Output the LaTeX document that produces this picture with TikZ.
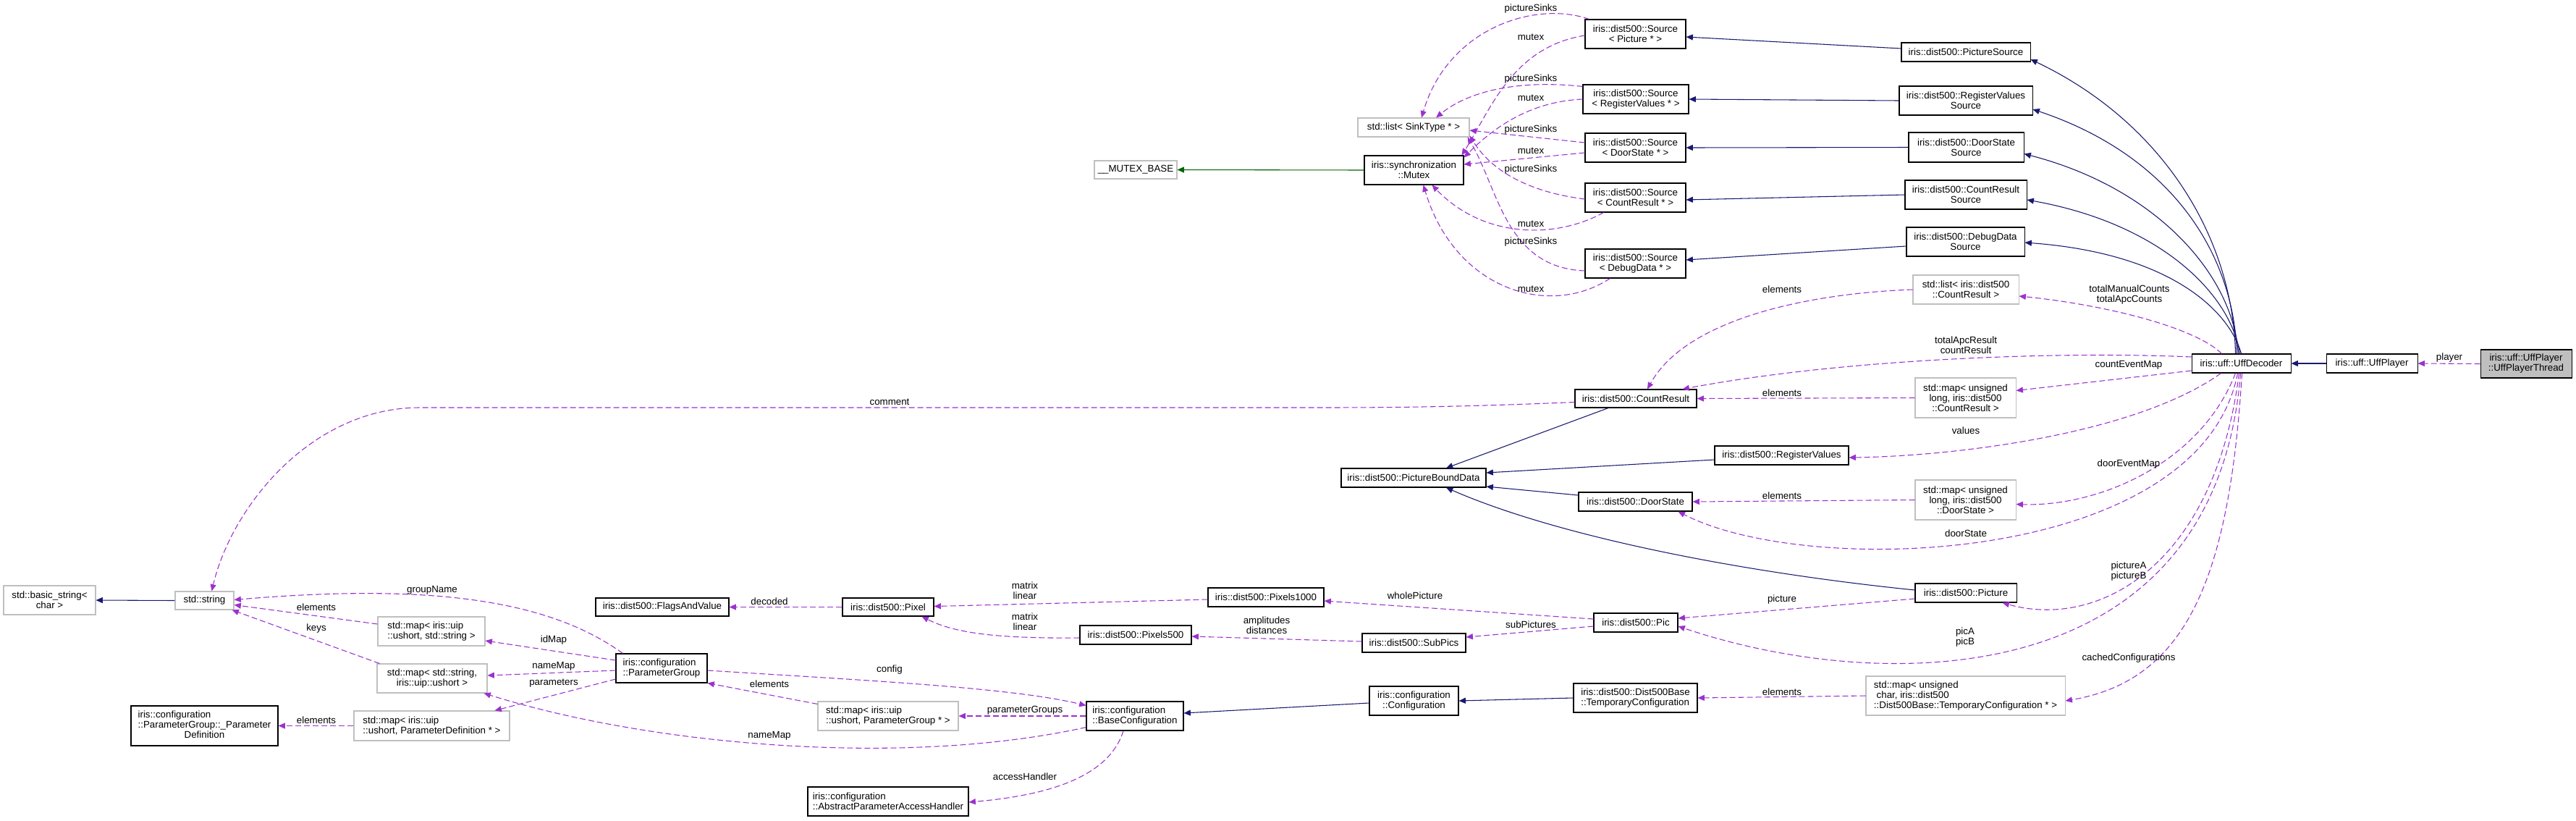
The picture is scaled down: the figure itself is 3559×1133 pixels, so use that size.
\documentclass[tikz,border=0pt]{standalone}
\usepackage{fontspec}
\setmainfont{Liberation Sans}
\usetikzlibrary{arrows.meta,calc}
\definecolor{inhc}{HTML}{191970}
\definecolor{usec}{HTML}{9A32CD}
\definecolor{grnc}{HTML}{006400}
\definecolor{grayb}{HTML}{BFBFBF}
\newcommand\nf{\fontsize{10}{10.5}\selectfont}
\newcommand\mkbox[7]{\node[#1, minimum width={(#5-#3)*0.75pt}, minimum height={(#6-#4)*0.75pt}] (#2) at ({(#3+#5)/2},{(#4+#6)/2}) {#7};}
\begin{document}
\begin{tikzpicture}[x=0.75pt,y=-0.75pt,
 box/.style={draw=black,line width=0.8pt,fill=white,inner sep=0pt,align=center,font=\nf},
 gbox/.style={box,draw=grayb},
 lft/.style={align=left},
 inh/.style={draw=inhc,line width=0.8pt,-{Triangle[length=7pt,width=6pt]}},
 grn/.style={inh,draw=grnc},
 use/.style={draw=usec,line width=0.8pt,dash pattern=on 6pt off 3pt,-{Triangle[length=7pt,width=6pt]}},
 lbl/.style={inner sep=0pt,align=center,font=\nf}]
\useasboundingbox[fill=white] (0,0) rectangle (3559,1133);

% ---------- nodes ----------
\mkbox{box,fill=grayb}{upt}{3427}{483}{3553}{522}{iris::uff::UffPlayer\\::UffPlayerThread}
\mkbox{box}{up}{3214}{489}{3340}{515}{iris::uff::UffPlayer}
\mkbox{box}{ud}{3028}{489}{3165}{515}{iris::uff::UffDecoder}
\mkbox{box}{ps}{2627}{59}{2805}{85}{iris::dist500::PictureSource}
\mkbox{box}{rvs}{2624}{119}{2808}{159}{iris::dist500::RegisterValues\\Source}
\mkbox{box}{dss}{2637}{183}{2796}{224}{iris::dist500::DoorState\\Source}
\mkbox{box}{crs}{2632}{249}{2800}{289}{iris::dist500::CountResult\\Source}
\mkbox{box}{dds}{2634}{314}{2797}{354}{iris::dist500::DebugData\\Source}
\mkbox{gbox}{lcr}{2643}{380}{2789}{420}{std::list< iris::dist500\\::CountResult >}
\mkbox{gbox}{mcr}{2646}{522}{2785}{577}{std::map< unsigned\\long, iris::dist500\\::CountResult >}
\mkbox{gbox}{mds}{2646}{663}{2785}{718}{std::map< unsigned\\long, iris::dist500\\::DoorState >}
\mkbox{box}{pict}{2646}{806}{2786}{832}{iris::dist500::Picture}
\mkbox{gbox,lft}{muc}{2578}{934}{2853}{988}{std::map< unsigned\\\ char, iris::dist500\\::Dist500Base::TemporaryConfiguration * >}
\mkbox{box}{sp}{2190}{27}{2329}{67}{iris::dist500::Source\\< Picture * >}
\mkbox{box}{srv}{2187}{117}{2333}{157}{iris::dist500::Source\\< RegisterValues * >}
\mkbox{box}{sds}{2190}{184}{2329}{224}{iris::dist500::Source\\< DoorState * >}
\mkbox{box}{scr}{2190}{253}{2329}{293}{iris::dist500::Source\\< CountResult * >}
\mkbox{box}{sdd}{2190}{344}{2329}{384}{iris::dist500::Source\\< DebugData * >}
\mkbox{gbox}{lst}{1876}{163}{2030}{189}{std::list< SinkType * >}
\mkbox{box}{mtx}{1885}{215}{2022}{255}{iris::synchronization\\::Mutex}
\mkbox{gbox}{mb}{1512}{222}{1626}{247}{\_\_MUTEX\_BASE}
\mkbox{box}{cr}{2176}{538}{2344}{563}{iris::dist500::CountResult}
\mkbox{box}{rv}{2369}{616}{2554}{642}{iris::dist500::RegisterValues}
\mkbox{box}{pbd}{1853}{647}{2053}{673}{iris::dist500::PictureBoundData}
\mkbox{box}{ds}{2181}{680}{2338}{706}{iris::dist500::DoorState}
\mkbox{box}{pic}{2202}{847}{2318}{873}{iris::dist500::Pic}
\mkbox{box}{subp}{1882}{875}{2025}{901}{iris::dist500::SubPics}
\mkbox{box}{conf}{1892}{948}{2015}{988}{iris::configuration\\::Configuration}
\mkbox{box,lft}{tc}{2174}{944}{2345}{984}{iris::dist500::Dist500Base\\::TemporaryConfiguration}
\mkbox{box}{p1k}{1669}{812}{1829}{838}{iris::dist500::Pixels1000}
\mkbox{box}{p500}{1492}{864}{1646}{890}{iris::dist500::Pixels500}
\mkbox{box}{pix}{1164}{826}{1290}{851}{iris::dist500::Pixel}
\mkbox{box}{fav}{823}{826}{1007}{851}{iris::dist500::FlagsAndValue}
\mkbox{box,lft}{pg}{851}{903}{977}{943}{iris::configuration\\::ParameterGroup}
\mkbox{gbox,lft}{mpg}{1130}{969}{1324}{1009}{std::map< iris::uip\\::ushort, ParameterGroup * >}
\mkbox{box,lft}{bc}{1501}{969}{1635}{1009}{iris::configuration\\::BaseConfiguration}
\mkbox{box,lft}{apah}{1116}{1087}{1338}{1127}{iris::configuration\\::AbstractParameterAccessHandler}
\mkbox{gbox}{str}{242}{817}{323}{842}{std::string}
\mkbox{gbox}{bstr}{5}{809}{132}{849}{std::basic\_string<\\char >}
\mkbox{gbox,lft}{mus}{522}{852}{670}{892}{std::map< iris::uip\\::ushort, std::string >}
\mkbox{gbox}{msu}{521}{917}{673}{957}{std::map< std::string,\\iris::uip::ushort >}
\mkbox{gbox,lft}{mpd}{489}{982}{704}{1023}{std::map< iris::uip\\::ushort, ParameterDefinition * >}
\mkbox{box}{pdef}{181}{975}{384}{1030}{\begin{tabular}{@{}l@{}}iris::configuration\\::ParameterGroup::\_Parameter\\\multicolumn{1}{@{}c@{}}{Definition}\end{tabular}}

% ---------- inheritance ----------
\draw[inh] (up.west) -- (ud.east);
\draw[inh] ($(ud.north)+(-8,0)$) .. controls (3085,330) and (2990,170) .. ($(ps.east)+(0,10)$);
\draw[inh] ($(ud.north)+(-6,0)$) .. controls (3086,350) and (3000,215) .. ($(rvs.east)+(0,12)$);
\draw[inh] ($(ud.north)+(-4,0)$) .. controls (3085,380) and (2980,260) .. ($(dss.east)+(0,9)$);
\draw[inh] ($(ud.north)+(-2,0)$) .. controls (3083,410) and (2990,310) .. ($(crs.east)+(0,7)$);
\draw[inh] ($(ud.north)+(0,0)$) .. controls (3080,430) and (3000,350) .. ($(dds.east)+(0,1)$);
\draw[inh] ($(ps.west)+(0,-5)$) -- ($(sp.east)+(0,4)$);
\draw[inh] (rvs.west) -- (srv.east);
\draw[inh] (dss.west) -- (sds.east);
\draw[inh] (crs.west) -- ($(scr.east)+(0,3)$);
\draw[inh] ($(dds.west)+(0,6)$) -- ($(sdd.east)+(0,-5)$);
\draw[grn] (mtx.west) -- (mb.east);
\draw[inh] ($(cr.south)+(-38,0)$) -- ($(pbd.north)+(45,0)$);
\draw[inh] ($(rv.west)+(0,6)$) -- ($(pbd.east)+(0,-7)$);
\draw[inh] ($(ds.west)+(0,-9)$) -- ($(pbd.east)+(0,12)$);
\draw[inh] ($(pict.west)+(0,-4)$) .. controls (2400,790) and (2150,740) .. ($(pbd.south)+(45,0)$);
\draw[inh] ($(conf.west)+(0,3)$) -- ($(bc.east)+(0,-4)$);
\draw[inh] (tc.west) -- (conf.east);
\draw[inh] (str.west) -- (bstr.east);

% ---------- usage ----------
\draw[use] ($(sp.north west)+(6,0)$) .. controls (2120,0) and (2000,40) .. ($(lst.north)+(11,0)$);
\draw[use] ($(sp.west)+(0,2)$) .. controls (2090,65) and (2060,150) .. ($(mtx.north east)+(-3,0)$);
\draw[use] ($(srv.north west)+(0,3)$) .. controls (2100,110) and (2030,125) .. ($(lst.north)+(31,0)$);
\draw[use] (srv.west) .. controls (2120,140) and (2070,170) .. ($(mtx.north east)+(0,3)$);
\draw[use] ($(sds.west)+(0,-7)$) -- ($(lst.east)+(0,4)$);
\draw[use] ($(sds.west)+(0,7)$) -- ($(mtx.east)+(0,-8)$);
\draw[use] ($(scr.west)+(0,2)$) .. controls (2110,265) and (2060,235) .. ($(lst.south east)+(0,-2)$);
\draw[use] ($(scr.south west)+(26,0)$) .. controls (2150,330) and (2050,330) .. ($(mtx.south)+(25,0)$);
\draw[use] ($(sdd.west)+(0,10)$) .. controls (2080,370) and (2070,260) .. ($(lst.south east)+(-3,0)$);
\draw[use] ($(sdd.south west)+(35,0)$) .. controls (2140,440) and (2010,400) .. ($(mtx.south)+(13,0)$);

\draw[use] (lcr.west) .. controls (2500,405) and (2330,440) .. ($(cr.north)+(16,0)$);
\draw[use] ($(ud.north west)+(42,0)$) .. controls (3030,450) and (2900,420) .. ($(lcr.east)+(0,9)$);
\draw[use] ($(ud.west)+(0,-9)$) .. controls (2850,485) and (2550,495) .. ($(cr.north east)+(-20,0)$);
\draw[use] ($(ud.west)+(0,10)$) -- ($(mcr.east)+(0,-10)$);
\draw[use] (mcr.west) -- (cr.east);
\draw[use] ($(ud.south)+(-28,0)$) .. controls (2950,600) and (2700,630) .. ($(rv.east)+(0,3)$);
\draw[use] ($(ud.south)+(-8,0)$) .. controls (3040,640) and (2900,700) .. ($(mds.east)+(0,6)$);
\draw[use] (mds.west) -- (ds.east);
\draw[use] ($(ud.south)+(-5,0)$) .. controls (3040,780) and (2500,800) .. ($(ds.south east)+(-20,0)$);
\draw[use] ($(ud.south)+(-3,0)$) .. controls (3060,780) and (2900,870) .. ($(pict.south east)+(-20,0)$);
\draw[use] ($(ud.south)+(-1,0)$) .. controls (3060,960) and (2600,960) .. ($(pic.east)+(0,5)$);
\draw[use] ($(ud.south)+(1,0)$) .. controls (3080,800) and (3020,940) .. ($(muc.east)+(0,7)$);
\draw[use] (muc.west) -- (tc.east);
\draw[use] (upt.west) -- (up.east);

\draw[use] ($(pict.west)+(0,8)$) -- ($(pic.east)+(0,-6)$);
\draw[use] ($(pic.west)+(0,-5)$) -- ($(p1k.east)+(0,5)$);
\draw[use] ($(pic.west)+(0,5)$) -- ($(subp.east)+(0,-8)$);
\draw[use] ($(subp.west)+(0,-2)$) -- ($(p500.east)+(0,2)$);
\draw[use] ($(p1k.west)+(0,3)$) -- ($(pix.east)+(0,-1)$);
\draw[use] ($(p500.west)+(0,4)$) .. controls (1380,882) and (1320,875) .. ($(pix.south east)+(-17,0)$);
\draw[use] (pix.west) -- (fav.east);

\draw[use] ($(pg.east)+(0,3)$) .. controls (1200,940) and (1400,950) .. ($(bc.north west)+(0,6)$);
\draw[use] ($(mpg.north west)+(0,4)$) -- (pg.south east);
\draw[use] (bc.west) -- (mpg.east);
\draw[use] ($(bc.south west)+(0,-5)$) .. controls (1250,1060) and (900,1030) .. ($(msu.south east)+(-5,0)$);
\draw[use] ($(bc.south)+(-16,0)$) .. controls (1530,1080) and (1430,1100) .. ($(apah.east)+(0,1)$);
\draw[use] ($(pg.north west)+(10,0)$) .. controls (760,830) and (600,805) .. ($(str.east)+(0,-1)$);
\draw[use] ($(mus.west)+(0,-10)$) -- ($(str.east)+(0,6)$);
\draw[use] ($(msu.north west)+(4,0)$) -- ($(str.south east)+(-3,0)$);
\draw[use] ($(pg.west)+(0,-11)$) -- ($(mus.east)+(0,13)$);
\draw[use] ($(pg.west)+(0,3)$) -- ($(msu.east)+(0,-4)$);
\draw[use] ($(pg.west)+(0,15)$) -- ($(mpd.north east)+(-21,0)$);
\draw[use] (mpd.west) -- (pdef.east);
\draw[use] ($(cr.west)+(0,5)$) .. controls (2000,563) and (1900,563) .. (1800,563) -- (580,563) .. controls (430,563) and (320,700) .. ($(str.north)+(10,0)$);

% ---------- labels ----------
\node[lbl] (l01) at (2115,12) {pictureSinks};
\node[lbl] (l02) at (2115,51) {mutex};
\node[lbl] (l03) at (2115,109) {pictureSinks};
\node[lbl] (l04) at (2115,135) {mutex};
\node[lbl] (l05) at (2115,179) {pictureSinks};
\node[lbl] (l06) at (2115,208) {mutex};
\node[lbl] (l07) at (2115,234) {pictureSinks};
\node[lbl] (l08) at (2115,309) {mutex};
\node[lbl] (l09) at (2115,334) {pictureSinks};
\node[lbl] (l10) at (2115,399) {mutex};
\node[lbl] (l11) at (2462,400) {elements};
\node[lbl] (l12) at (2942,407) {totalManualCounts\\totalApcCounts};
\node[lbl] (l13) at (2716,477) {totalApcResult\\countResult};
\node[lbl] (l14) at (2941,504) {countEventMap};
\node[lbl] (l15) at (2462,543) {elements};
\node[lbl] (l16) at (2716,595) {values};
\node[lbl] (l17) at (2941,641) {doorEventMap};
\node[lbl] (l18) at (2462,685) {elements};
\node[lbl] (l19) at (2716,737) {doorState};
\node[lbl] (l20) at (2941,789) {pictureA\\pictureB};
\node[lbl] (l21) at (2715,880) {picA\\picB};
\node[lbl] (l22) at (2941,909) {cachedConfigurations};
\node[lbl] (l23) at (2462,956) {elements};
\node[lbl] (l24) at (3384,494) {player};
\node[lbl] (l25) at (2462,828) {picture};
\node[lbl] (l26) at (1955,823) {wholePicture};
\node[lbl] (l27) at (2115,863) {subPictures};
\node[lbl] (l28) at (1750,864) {amplitudes\\distances};
\node[lbl] (l29) at (1416,816) {matrix\\linear};
\node[lbl] (l30) at (1416,859) {matrix\\linear};
\node[lbl] (l31) at (1063,831) {decoded};
\node[lbl] (l32) at (1229,925) {config};
\node[lbl] (l33) at (1063,945) {elements};
\node[lbl] (l34) at (1416,981) {parameterGroups};
\node[lbl] (l35) at (1063,1016) {nameMap};
\node[lbl] (l36) at (1416,1073) {accessHandler};
\node[lbl] (l37) at (597,815) {groupName};
\node[lbl] (l38) at (437,839) {elements};
\node[lbl] (l39) at (437,868) {keys};
\node[lbl] (l40) at (765,884) {idMap};
\node[lbl] (l41) at (765,920) {nameMap};
\node[lbl] (l42) at (765,944) {parameters};
\node[lbl] (l43) at (437,995) {elements};
\node[lbl] (l44) at (1229,555) {comment};
\end{tikzpicture}
\end{document}
